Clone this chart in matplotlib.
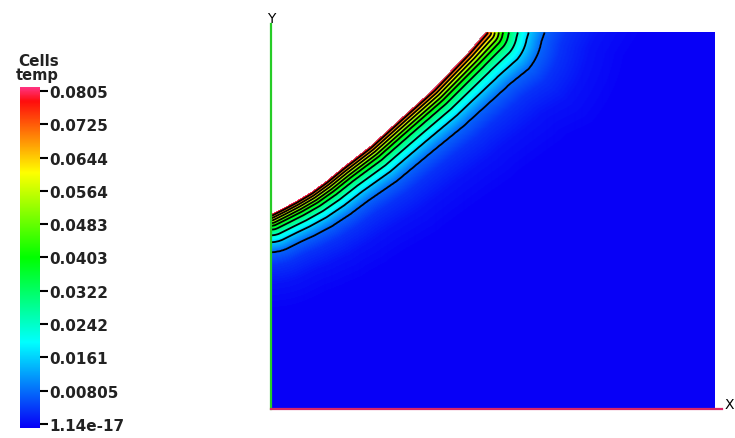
import numpy as np
import matplotlib
matplotlib.use("Agg")
import matplotlib.pyplot as plt
from matplotlib.colors import LinearSegmentedColormap, Normalize

W, H, DPI = 735, 439, 100

# heated edge of the part (plot units = px), with short extensions outside the box
edge_x = [-80, 0, 12, 25, 40, 55, 72, 99, 132, 162, 197, 214, 218, 218]
edge_y = [195, 195, 201, 208, 217, 228, 242, 263, 293, 320, 357, 377, 400, 600]
# thickness of the heated layer along that edge
edge_depth = [38, 38, 38, 39, 40, 41, 42, 44, 46, 48, 52, 57, 61, 62]

# temperature against (depth / layer thickness)
depth_frac = [0.0, 0.05, 0.11, 0.17, 0.24, 0.31, 0.41, 0.56, 0.74, 1.0, 1.35, 1.85, 2.6, 10.0]
temp_profile = [0.0805, 0.0725, 0.0644, 0.0564, 0.0483, 0.0403, 0.0322,
                0.0242, 0.0161, 0.00805, 0.004, 0.0015, 0.0, 0.0]

tick_values = [0.0805, 0.0725, 0.0644, 0.0564, 0.0483, 0.0403,
               0.0322, 0.0242, 0.0161, 0.00805, 0.0]
tick_labels = ["0.0805", "0.0725", "0.0644", "0.0564", "0.0483", "0.0403",
               "0.0322", "0.0242", "0.0161", "0.00805", "1.14e-17"]
vmin, vmax = 0.0, 0.0805

# blue - cyan - green - yellow - red colour table
cmap_pos = [0.0, 0.25, 0.5, 0.75, 0.96, 1.0]
cmap_rgb = [(0.03, 0.0, 0.97), (0.0, 1.0, 1.0), (0.0, 1.0, 0.0), (1.0, 1.0, 0.0),
            (1.0, 0.05, 0.05), (1.0, 0.2, 0.5)]
cmap = LinearSegmentedColormap.from_list("hot_vis", list(zip(cmap_pos, cmap_rgb)))
norm = Normalize(vmin, vmax)

# plot box in pixels
box_w, box_h = 443, 377
box_left, box_top = 271, 33
n_edge = 12  # points of the edge that lie inside the box


def build_field():
    xs = np.arange(0.5, box_w)
    ys = np.arange(0.5, box_h)
    X, Y = np.meshgrid(xs, ys)

    ex, ey = np.array(edge_x, float), np.array(edge_y, float)
    dx, dy = np.diff(ex), np.diff(ey)
    seg_len = np.hypot(dx, dy)
    arc = np.concatenate([[0.0], np.cumsum(seg_len)])

    px = X.ravel()[:, None]
    py = Y.ravel()[:, None]
    t = ((px - ex[:-1]) * dx + (py - ey[:-1]) * dy) / seg_len ** 2
    t = np.clip(t, 0, 1)
    d = np.hypot(px - ex[:-1] - t * dx, py - ey[:-1] - t * dy)
    k = d.argmin(axis=1)
    rows = np.arange(len(k))
    dist = d[rows, k]
    s = arc[k] + t[rows, k] * seg_len[k]
    depth = np.interp(s, arc, edge_depth)
    temp = np.interp(dist / depth, depth_frac, temp_profile).reshape(X.shape)

    # nothing above the heated edge
    top = np.interp(X, ex[1:n_edge], ey[1:n_edge], right=np.inf)
    temp = np.ma.masked_where(Y > top, temp)
    return X, Y, temp


X, Y, temp = build_field()

fig = plt.figure(figsize=(W / DPI, H / DPI), dpi=DPI)

ax = fig.add_axes([box_left / W, (H - box_top - box_h) / H, box_w / W, box_h / H])
ax.imshow(temp, origin="lower", extent=[0, box_w, 0, box_h], cmap=cmap, norm=norm,
          interpolation="bilinear", aspect="auto")
ax.contour(X, Y, temp, levels=tick_values[1:-1][::-1], colors="black", linewidths=1.3)
ax.set_xlim(0, box_w)
ax.set_ylim(0, box_h)
ax.axis("off")

# coordinate axes
ax.plot([0, 0], [0, box_h + 8], color=(0.15, 0.8, 0.15), lw=1.6, clip_on=False)
ax.plot([0, box_w + 8], [0, 0], color=(0.85, 0.15, 0.4), lw=1.6, clip_on=False)
ax.text(0, box_h + 14, "Y", ha="center", va="center", fontsize=10)
ax.text(box_w + 15, 5, "X", ha="center", va="center", fontsize=10)

# legend bar
px_per_val = (425 - 92) / (vmax - vmin)
bar_top, bar_bot = 88, 429
lo = vmin - (bar_bot - 425) / px_per_val
hi = vmax + (92 - bar_top) / px_per_val
cax = fig.add_axes([20 / W, (H - bar_bot) / H, 20 / W, (bar_bot - bar_top) / H])
grad = np.linspace(lo, hi, 256)[:, None]
cax.imshow(grad, origin="lower", extent=[0, 1, lo, hi], cmap=cmap,
           norm=Normalize(lo, hi), aspect="auto")
cax.set_xlim(0, 1)
cax.set_ylim(lo, hi)
cax.set_xticks([])
cax.yaxis.tick_right()
cax.set_yticks(tick_values)
cax.set_yticklabels(tick_labels, fontweight="bold", color="#222222")
cax.tick_params(axis="y", length=6, width=1.5, pad=1, labelsize=11)
for sp in cax.spines.values():
    sp.set_visible(False)

fig.text(18 / W, 1 - 66 / H, "Cells", fontsize=11, fontweight="bold", color="#222222")
fig.text(16 / W, 1 - 80 / H, "temp", fontsize=10.5, fontweight="bold", color="#222222")

fig.savefig("out.png", dpi=DPI)
